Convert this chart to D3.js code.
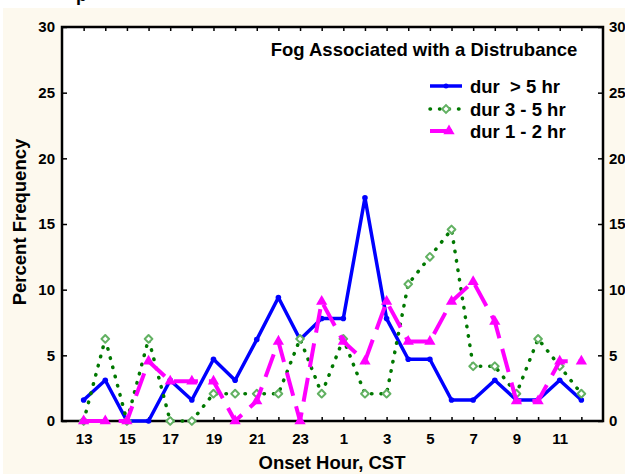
<!DOCTYPE html>
<html>
<head>
<meta charset="utf-8">
<script src="https://cdn.jsdelivr.net/npm/d3@7"></script>
<style>
body { margin: 0; background: #ffffff; }
text { font-family: "Liberation Sans", Arial, sans-serif; font-weight: bold; fill: #000; }
</style>
</head>
<body>
<svg id="chart" width="625" height="474"></svg>
<script>
// onset hours, 13 CST through 12 CST next day
var hours = [13,14,15,16,17,18,19,20,21,22,23,0,1,2,3,4,5,6,7,8,9,10,11,12];
var durLong = [1.6,3.1,0,0,3.1,1.6,4.7,3.1,6.2,9.4,6.2,7.8,7.8,17.0,7.8,4.7,4.7,1.6,1.6,3.1,1.6,1.6,3.1,1.6];
var durMid = [0,6.25,0,6.25,0,0,2.08,2.08,2.08,2.08,6.25,2.08,6.25,2.08,2.08,10.42,12.5,14.58,4.17,4.17,2.08,6.25,4.17,2.08];
var durShort = [0,0,0,4.55,3.03,3.03,3.03,0,1.52,6.06,0,9.09,6.06,4.55,9.09,6.06,6.06,9.09,10.61,7.58,1.52,1.52,4.55,4.55];
var yTicks = [0,5,10,15,20,25,30];
var legendLabels = ["dur  > 5 hr", "dur 3 - 5 hr", "dur 1 - 2 hr"];

var svg = d3.select("#chart");

// cream panel behind the plot
svg.append("rect")
    .attr("x", 3).attr("y", 8)
    .attr("width", 622).attr("height", 466)
    .attr("fill", "#fdf9ee");

// cut-off title at the very top
svg.append("text")
    .text("p")
    .attr("x", 76).attr("y", 1)
    .style("font-size", "18px");

var xScale = d3.scaleLinear()
    .domain([-1,24])
    .range([62,603]);

var yScale = d3.scaleLinear()
    .domain([0,30])
    .range([421,27]);

svg.append("rect")
    .attr("x", 62).attr("y", 27)
    .attr("width", 541).attr("height", 394)
    .attr("fill", "white");

var drawAxes = function(){
    var idx = d3.range(hours.length);
    var xAxis = d3.axisBottom(xScale)
        .tickValues(idx)
        .tickSize(-4)
        .tickPadding(12)
        .tickFormat(function(d){ return d % 2 == 0 ? hours[d] : ""; });
    var xTop = d3.axisTop(xScale)
        .tickValues(idx)
        .tickSize(-4)
        .tickFormat("");
    var yLeft = d3.axisLeft(yScale)
        .tickValues(yTicks)
        .tickSize(-5)
        .tickPadding(7);
    var yRight = d3.axisRight(yScale)
        .tickValues(yTicks)
        .tickSize(-5)
        .tickPadding(6);

    var axes = svg.append("g");
    axes.append("g").attr("transform","translate(0,421)").call(xAxis);
    axes.append("g").attr("transform","translate(0,27)").call(xTop);
    axes.append("g").attr("transform","translate(62,0)").call(yLeft);
    axes.append("g").attr("transform","translate(603,0)").call(yRight);

    axes.selectAll(".domain").remove();
    axes.selectAll(".tick line").attr("stroke","#000").attr("stroke-width",1.5);
    axes.selectAll(".tick text").style("font-size","15px").style("font-family","Liberation Sans, Arial, sans-serif");

    svg.append("rect")
        .attr("x", 62).attr("y", 27)
        .attr("width", 541).attr("height", 394)
        .attr("fill", "none")
        .attr("stroke", "#000")
        .attr("stroke-width", 2.5);
};

var line = d3.line()
    .x(function(d,i){ return xScale(i); })
    .y(function(d){ return yScale(d); });

var diamond = d3.symbol().type(d3.symbolSquare).size(30);

var drawSeries = function(){
    var plot = svg.append("g");

    // dur > 5 hr
    plot.append("path")
        .datum(durLong)
        .attr("d", line)
        .attr("fill","none")
        .attr("stroke","#0000ff")
        .attr("stroke-width",3.5)
        .attr("stroke-linejoin","round");
    plot.selectAll(".bdot")
        .data(durLong)
        .enter()
        .append("circle")
        .attr("cx", function(d,i){ return xScale(i); })
        .attr("cy", function(d){ return yScale(d); })
        .attr("r", 2.8)
        .attr("fill","#0000ff");

    // dur 3 - 5 hr
    plot.append("path")
        .datum(durMid)
        .attr("d", line)
        .attr("fill","none")
        .attr("stroke","#007800")
        .attr("stroke-width",3.5)
        .attr("stroke-linecap","round")
        .attr("stroke-dasharray","0.5,9");
    plot.selectAll(".gdot")
        .data(durMid)
        .enter()
        .append("path")
        .attr("d", diamond)
        .attr("transform", function(d,i){ return "translate(" + xScale(i) + "," + yScale(d) + ") rotate(45)"; })
        .attr("fill","#ffffff")
        .attr("stroke","#62b162")
        .attr("stroke-width",2)
        .attr("stroke-linejoin","round");

    // dur 1 - 2 hr
    plot.append("path")
        .datum(durShort)
        .attr("d", line)
        .attr("fill","none")
        .attr("stroke","#ff00ff")
        .attr("stroke-width",4)
        .attr("stroke-dasharray","24,11");
    plot.selectAll(".mtri")
        .data(durShort)
        .enter()
        .append("path")
        .attr("d", d3.symbol().type(d3.symbolTriangle).size(55))
        .attr("transform", function(d,i){ return "translate(" + xScale(i) + "," + yScale(d) + ")"; })
        .attr("fill","#ff00ff");
};

var createLabels = function(){
    var labels = svg.append("g");
    labels.append("text")
        .text("Fog Associated with a Distrubance")
        .attr("x", 424).attr("y", 56)
        .attr("text-anchor","middle")
        .style("font-size","18.5px");
    labels.append("text")
        .text("Onset Hour, CST")
        .attr("x", 332).attr("y", 469)
        .attr("text-anchor","middle")
        .style("font-size","18.5px");
    labels.append("text")
        .text("Percent Frequency")
        .attr("transform","translate(26,222) rotate(-90)")
        .attr("text-anchor","middle")
        .style("font-size","18.5px");

    var legendY = [86, 109, 131];
    var leg = labels.append("g");
    leg.selectAll("text")
        .data(legendLabels)
        .enter()
        .append("text")
        .text(function(d){ return d; })
        .attr("x", 470)
        .attr("y", function(d,i){ return legendY[i] + 7; })
        .style("font-size","18.5px")
        .style("white-space","pre")
        .attr("xml:space","preserve");

    leg.append("line")
        .attr("x1",430).attr("x2",462)
        .attr("y1",legendY[0]).attr("y2",legendY[0])
        .attr("stroke","#0000ff").attr("stroke-width",3.5);
    leg.append("circle")
        .attr("cx",446).attr("cy",legendY[0]).attr("r",2.5)
        .attr("fill","#0000ff");

    leg.append("line")
        .attr("x1",430).attr("x2",462)
        .attr("y1",legendY[1]).attr("y2",legendY[1])
        .attr("stroke","#007800").attr("stroke-width",3.5)
        .attr("stroke-linecap","round")
        .attr("stroke-dasharray","0.5,9");
    leg.append("path")
        .attr("d", diamond)
        .attr("transform","translate(446," + legendY[1] + ") rotate(45)")
        .attr("fill","#ffffff")
        .attr("stroke","#62b162")
        .attr("stroke-width",2);

    leg.append("line")
        .attr("x1",430).attr("x2",452)
        .attr("y1",legendY[2]).attr("y2",legendY[2])
        .attr("stroke","#ff00ff").attr("stroke-width",4);
    leg.append("path")
        .attr("d", d3.symbol().type(d3.symbolTriangle).size(55))
        .attr("transform","translate(449," + legendY[2] + ")")
        .attr("fill","#ff00ff");
};

drawAxes();
drawSeries();
createLabels();
</script>
</body>
</html>
